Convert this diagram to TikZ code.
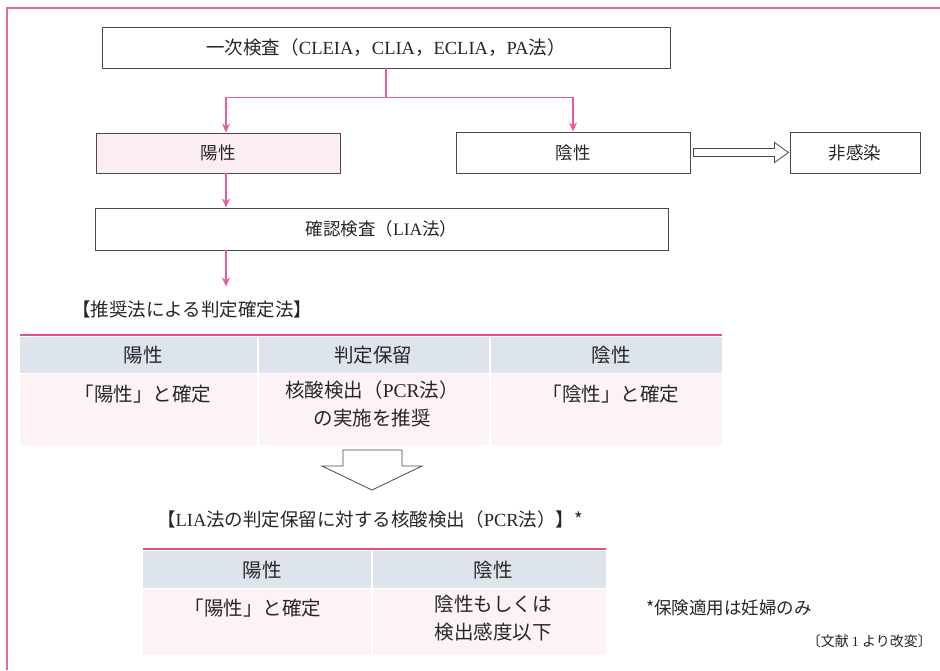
\documentclass[tikz,border=0pt]{standalone}
\usepackage{fontspec}
\setmainfont{Noto Sans CJK JP}
\newfontfamily\latn{Liberation Serif}
\usetikzlibrary{arrows.meta,calc}
\definecolor{pinkline}{HTML}{E2508C}
\definecolor{arrowpink}{HTML}{EA5C9C}
\definecolor{framepink}{HTML}{E06A9E}
\definecolor{posfill}{HTML}{FCEDF3}
\definecolor{headfill}{HTML}{DEE4EC}
\definecolor{datafill}{HTML}{FDF3F6}
\definecolor{boxline}{HTML}{4A4A4A}
\tikzset{
  box/.style={draw=boxline, line width=0.9pt, rectangle, inner sep=0pt, font=\fontsize{17.5}{20}\selectfont, text=black!85},
  arr/.style={draw=arrowpink, line width=1.6pt, -{Stealth[length=9pt,width=8pt]}},
  pinkrule/.style={draw=pinkline, line width=1.6pt},
  cell/.style={font=\fontsize{19.5}{28}\selectfont, align=center, inner sep=0pt, text=black!85},
  headtxt/.style={font=\fontsize{18.5}{22}\selectfont, inner sep=0pt, text=black!85},
  hollow/.style={draw=boxline, line width=0.8pt, fill=white}
}
\begin{document}
\begin{tikzpicture}[x=1pt,y=-1pt]
\useasboundingbox (0,0) rectangle (940,670);
\fill[white] (0,0) rectangle (940,670);
% frame
\draw[framepink, line width=1.3pt] (7,670) -- (7,8) -- (940,8);

% flow boxes
\node[box, minimum width=568pt, minimum height=41pt, font=\fontsize{18.5}{22}\selectfont] (b1) at (386,47.5)
  {一次検査（{\latn CLEIA}，{\latn CLIA}，{\latn ECLIA}，{\latn PA}法）};
\node[box, fill=posfill, minimum width=244pt, minimum height=40pt] (pos) at (218,153) {陽性};
\node[box, minimum width=234pt, minimum height=41pt] (neg) at (573,152.5) {陰性};
\node[box, minimum width=130pt, minimum height=41pt] (non) at (855,152.5) {非感染};
\node[box, minimum width=573pt, minimum height=42pt] (conf) at (381.5,229) {確認検査（{\latn LIA}法）};

\coordinate (ax) at (226,0);
\coordinate (split) at ($(b1.south)+(0,29)$);
\draw[draw=arrowpink, line width=1.6pt] (b1.south) -- (split);
\draw[arr] (split) -| (ax |- pos.north);
\draw[arr] (split) -| (neg.north);
\draw[arr] (ax |- pos.south) -- (ax |- conf.north);
\coordinate (cend) at ($(ax |- conf.south)+(0,36)$);
\draw[arr] (ax |- conf.south) -- (cend);

% hollow right arrow
\draw[hollow] ($(neg.east)+(3,-4)$) -- ($(non.west)+(-15,-4)$) -- ($(non.west)+(-15,-10)$)
  -- ($(non.west)+(-1,0)$) -- ($(non.west)+(-15,10)$) -- ($(non.west)+(-15,4)$)
  -- ($(neg.east)+(3,4)$) -- cycle;

% heading 1
\node[headtxt, anchor=west] (h1) at (72,309) {【推奨法による判定確定法】};

% table 1
\fill[headfill] (20,337) rectangle (722,373);
\fill[datafill] (20,373) rectangle (722,445);
\draw[white, line width=1.5pt] (258,337) -- (258,445);
\draw[white, line width=1.5pt] (490,337) -- (490,445);
\draw[white, line width=1pt] (20,373) -- (722,373);
\draw[pinkrule] (20,335) -- (722,335);
\node[cell] (t1a) at (143,355) {陽性};
\node[cell] (t1b) at (373,355) {判定保留};
\node[cell] (t1c) at (611,355) {陰性};
\node[cell] (t1d) at (143,394) {「陽性」と確定};
\node[cell, anchor=north] (t1e) at (372,381) {核酸検出（{\latn PCR}法）\\の実施を推奨};
\node[cell] (t1f) at (611,394) {「陰性」と確定};

% hollow down arrow
\coordinate (dtip) at (372,490);
\draw[hollow] (343,450) -- (402,450) -- (402,466) -- (422,466) -- (dtip) -- (322,466) -- (343,466) -- cycle;

% heading 2
\node[headtxt] (h2) at (370,519) {【{\latn LIA}法の判定保留に対する核酸検出（{\latn PCR}法）】*};

% table 2
\fill[headfill] (143,551) rectangle (606,588);
\fill[datafill] (143,588) rectangle (606,655);
\draw[white, line width=1.5pt] (372,551) -- (372,655);
\draw[white, line width=1pt] (143,588) -- (606,588);
\draw[pinkrule] (143,549) -- (606,549);
\node[cell] (t2a) at (262,570) {陽性};
\node[cell] (t2b) at (493,570) {陰性};
\node[cell] (t2c) at (253,608) {「陽性」と確定};
\node[cell, anchor=north] (t2d) at (493,595) {陰性もしくは\\検出感度以下};

% notes
\node[headtxt, anchor=west, font=\fontsize{17.5}{20}\selectfont] (n1) at (646,608) {*保険適用は妊婦のみ};
\node[font=\fontsize{14}{16}\selectfont, inner sep=0pt, anchor=east, text=black!85] (n2) at (932,641) {〔文献 {\latn 1} より改変〕};
\end{tikzpicture}
\end{document}
